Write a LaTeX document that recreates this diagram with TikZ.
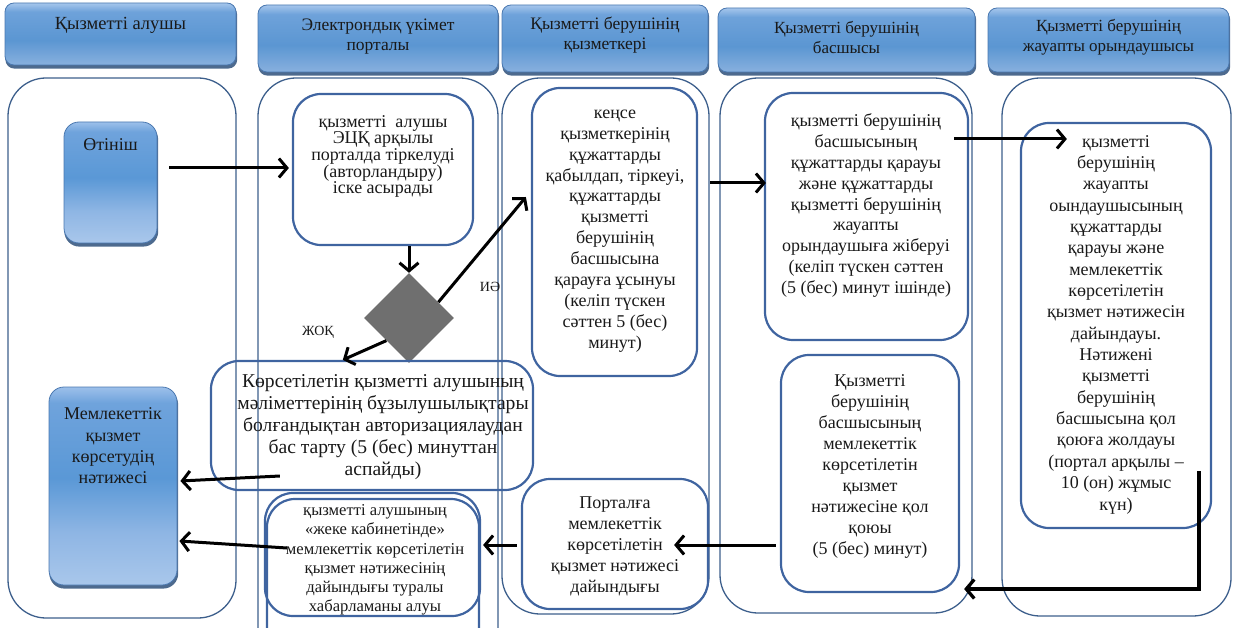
\documentclass[tikz,border=0pt]{standalone}
\usepackage{fontspec}
\setmainfont{Liberation Serif}
\usetikzlibrary{arrows.meta,shapes.geometric,calc}
\pgfdeclarelayer{bg}
\pgfsetlayers{bg,main}
\newcommand\myfs[2]{\fontsize{#1}{#2}\selectfont}
\definecolor{lanec}{HTML}{3D5F8C}
\definecolor{boxc}{HTML}{3F64A0}
\definecolor{hdrb}{HTML}{4A78B0}
\definecolor{htop}{HTML}{A6C6EC}
\definecolor{hup}{HTML}{6EA2DA}
\definecolor{hmid}{HTML}{5B96D2}
\definecolor{hbot}{HTML}{88B0DE}
\definecolor{btop}{HTML}{9DC0EA}
\definecolor{bup}{HTML}{6FA3DC}
\definecolor{bmid}{HTML}{5A98D6}
\definecolor{blow}{HTML}{8FB6E4}
\definecolor{bbot}{HTML}{A9C7EB}
\definecolor{shad}{HTML}{3A5A82}
\definecolor{diag}{HTML}{6F6F6F}
\pgfdeclareverticalshading{hdrshade}{100bp}{color(0bp)=(hbot); color(25bp)=(hbot); color(45bp)=(hmid); color(68bp)=(hup); color(75bp)=(htop); color(100bp)=(htop)}
\pgfdeclareverticalshading{blushade}{100bp}{color(0bp)=(bbot); color(25bp)=(bbot); color(38bp)=(blow); color(52bp)=(bmid); color(71bp)=(bup); color(75bp)=(btop); color(100bp)=(btop)}
\tikzset{
  lane/.style={draw=lanec, line width=1.3pt, rounded corners=38pt},
  hdr/.style={rounded corners=9pt, draw=hdrb, line width=0.8pt, inner sep=0pt, shading=hdrshade},
  bnode/.style={rounded corners=15pt, draw=hdrb, line width=0.8pt, inner sep=0pt, shading=blushade},
  shadowfill/.style={fill=shad, opacity=0.9},
  ibox/.style={draw=boxc, line width=2.2pt, rounded corners=28pt, inner sep=0pt},
  htxt/.style={align=center, inner sep=0pt, text=black!90},
  txt/.style={align=center, inner sep=0pt, font=\myfs{18}{21}, text=black!90},
  lbl/.style={inner sep=0pt, font=\myfs{14}{16}, text=black!90},
  dia/.style={shape=diamond, fill=diag, minimum width=90pt, minimum height=90pt, inner sep=0pt},
  arr/.style={line width=3pt, -{Straight Barb[length=8pt,width=19pt]}},
}
\begin{document}
\begin{tikzpicture}[x=1pt,y=-1pt]
\useasboundingbox (0,0) rectangle (1233,628);
\begin{scope}
\clip (0,0) rectangle (1233,628);
% headers
\node[hdr, minimum width=231pt, minimum height=62pt] (h1) at (120.5,34) {};
\node[htxt, font=\myfs{18.5}{20}] (h1t) at (120.5,25) {Қызметті алушы};
\node[hdr, minimum width=240pt, minimum height=67pt] (h2) at (378,38.5) {};
\node[htxt, font=\myfs{17.5}{20}] (h2t) at (378,37) {Электрондық үкімет\\порталы};
\node[hdr, minimum width=206pt, minimum height=67pt] (h3) at (605,38.5) {};
\node[htxt, font=\myfs{17.5}{20}] (h3t) at (605,35) {Қызметті берушінің\\қызметкері};
\node[hdr, minimum width=257pt, minimum height=64pt] (h4) at (846.5,40) {};
\node[htxt, font=\myfs{17}{20}] (h4t) at (846.5,37.5) {Қызметті берушінің\\басшысы};
\node[hdr, minimum width=241pt, minimum height=64pt] (h5) at (1108.5,40) {};
\node[htxt, font=\myfs{17}{20}] (h5t) at (1108.5,37.5) {Қызметті берушінің\\жауапты орындаушысы};
% lanes
\draw[lane] (8,78) rectangle (236,618);
\draw[lane] (258,78) rectangle (498,668);
\draw[lane] (502,78) rectangle (709,614);
\draw[lane] (720,78) rectangle (972,613);
\draw[lane] (1002,78) rectangle (1231,616);
% lane 1
\node[bnode, minimum width=93pt, minimum height=121pt] (app) at (110.5,182.5) {};
\node[txt] (appt) at (110.5,145) {Өтініш};
\node[bnode, minimum width=128pt, minimum height=198pt] (res) at (113,486) {};
\node[txt, font=\myfs{18}{21.3}] (rest) at (113,446) {Мемлекеттік\\қызмет\\көрсетудің\\нәтижесі};
% shadows of the blue boxes
\begin{pgfonlayer}{bg}
\foreach \n/\r in {h1/9,h2/9,h3/9,h4/9,h5/9,app/15,res/15}
  \fill[shadowfill, rounded corners=\r pt] ($(\n.north west)+(0.8,3.2)$) rectangle ($(\n.south east)+(0.8,3.2)$);
\end{pgfonlayer}
% lane 2
\node[ibox, minimum width=180pt, minimum height=151pt] (reg) at (383,169.5) {};
\node[txt, font=\myfs{18}{16.7}] (regt) at (383,156.5) {қызметті\ \ алушы\\ЭЦҚ арқылы\\порталда тіркелуді\\(авторландыру)\\іске асырады};
\node[dia] (dec) at (409,318) {};
\node[lbl] (yes) at (490,287) {ИӘ};
\node[lbl] (no) at (318,332) {ЖОҚ};
\node[ibox, minimum width=322pt, minimum height=129pt] (ref) at (372,425.5) {};
\node[txt, font=\myfs{19.6}{22}] (reft) at (383,427) {Көрсетілетін қызметті алушының\\мәліметтерінің бұзылушылықтары\\болғандықтан авторизациялаудан\\бас тарту (5 (бес) минуттан\\аспайды)};
\node[ibox, minimum width=215pt, minimum height=123pt] (cab) at (372.5,554.5) {};
\draw[draw=boxc, line width=2.2pt, rounded corners=28pt] (267,499) rectangle (479,660);
\node[txt, font=\myfs{16.6}{19.2}] (cabt) at (375,560) {қызметті алушының\\«жеке кабинетінде»\\мемлекеттік көрсетілетін\\қызмет нәтижесінің\\дайындығы туралы\\хабарламаны алуы};
% lane 3
\node[ibox, minimum width=165pt, minimum height=288pt] (off) at (614.5,232) {};
\node[txt, font=\myfs{18}{20.9}] (offt) at (615,231) {кеңсе\\қызметкерінің\\құжаттарды\\қабылдап, тіркеуі,\\құжаттарды\\қызметті\\берушінің\\басшысына\\қарауға ұсынуы\\(келіп түскен\\сәттен 5 (бес)\\минут)};
\node[ibox, minimum width=186pt, minimum height=130pt] (por) at (615,544) {};
\node[txt] (port) at (615,546) {Порталға\\мемлекеттік\\көрсетілетін\\қызмет нәтижесі\\дайындығы};
% lane 4
\node[ibox, minimum width=203pt, minimum height=247pt] (chf) at (866.5,216.5) {};
\node[txt, font=\myfs{18}{20.9}] (chft) at (866,205.5) {қызметті берушінің\\басшысының\\құжаттарды қарауы\\және құжаттарды\\қызметті берушінің\\жауапты\\орындаушыға жіберуі\\(келіп түскен сәттен\\(5 (бес) минут ішінде)};
\node[ibox, minimum width=178pt, minimum height=237pt] (sgn) at (870,473.5) {};
\node[txt, font=\myfs{18}{20.9}] (sgnt) at (870,466.5) {Қызметті\\берушінің\\басшысының\\мемлекеттік\\көрсетілетін\\қызмет\\нәтижесіне қол\\қоюы\\(5 (бес) минут)};
% lane 5
\node[ibox, minimum width=190pt, minimum height=405pt] (exe) at (1116,325.5) {};
\node[txt, font=\myfs{18}{21.35}] (exet) at (1116,324.5) {қызметті\\берушінің\\жауапты\\оындаушысының\\құжаттарды\\қарауы және\\мемлекеттік\\көрсетілетін\\қызмет нәтижесін\\дайындауы.\\Нәтижені\\қызметті\\берушінің\\басшысына қол\\қоюға жолдауы\\(портал арқылы --\\10 (он) жұмыс\\күн)};
% connectors
\draw[arr] ($(app.east)+(12,-14.5)$) -- ($(reg.west)+(-3,-1.5)$);
\draw[arr] (reg.south -| dec.north) -- (dec.north);
\draw[arr] ($(dec.north east)!0.3!(dec.east)$) -- ($(off.west)+(-5,-35)$);
\draw[arr] (dec.south west) -- ($(ref.north west)!0.41!(ref.north east)$);
\draw[arr] ($(ref.west)+(70,50.5)$) -- ($(res.east)+(3,-5)$);
\draw[arr] ($(cab.west)+(23,-6.5)$) -- ($(res.east)+(2,55)$);
\draw[arr] ($(off.east)+(12,-49)$) -- ($(chf.west)+(2,-33.5)$);
\draw[arr] ($(chf.east)+(-15,-77.5)$) -- ($(exe.west)+(47,-186.5)$);
\draw[arr, line width=3.3pt] ($(exe.south east)+(-13,-58)$) |- ($(sgn.east)+(4,115.5)$);
\draw[arr] ($(sgn.west)+(-4,71.5)$) -- ($(por.east)+(-35,1)$);
\draw[arr] ($(por.west)+(-4,1)$) -- ($(cab.east)+(2,-9.5)$);
\end{scope}
\end{tikzpicture}
\end{document}
